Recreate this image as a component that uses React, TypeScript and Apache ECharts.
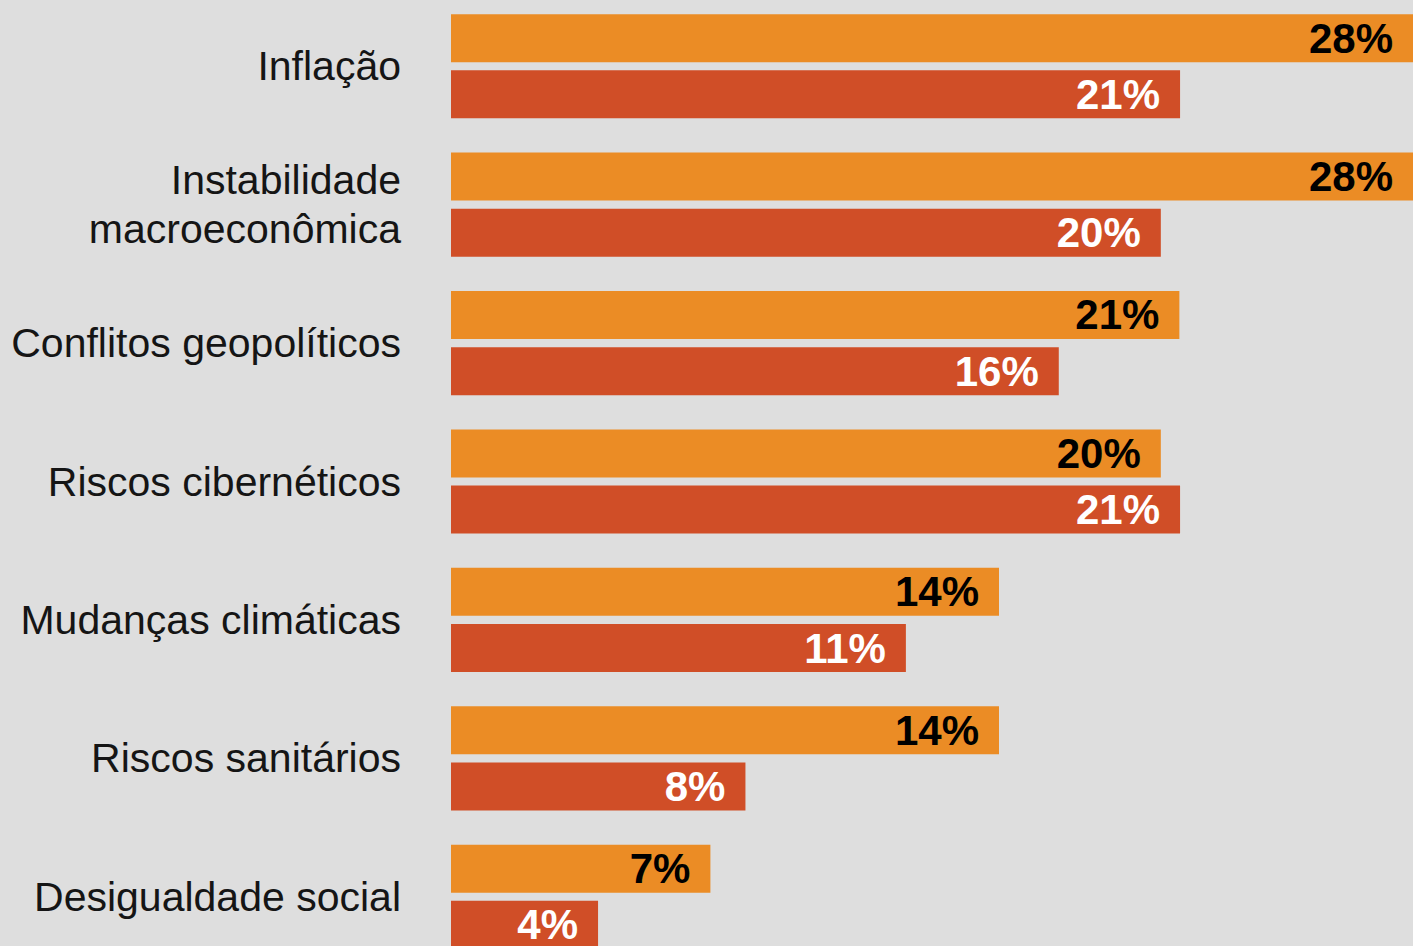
import React, { useEffect, useRef } from "react";
import * as echarts from "echarts";

const categories = [
  "Inflação",
  "Instabilidade\nmacroeconômica",
  "Conflitos geopolíticos",
  "Riscos cibernéticos",
  "Mudanças climáticas",
  "Riscos sanitários",
  "Desigualdade social",
];

// Percent labels as printed on the bars
const orangeLabels = [28, 28, 21, 20, 14, 14, 7];
const redLabels = [21, 20, 16, 21, 11, 8, 4];

// Bar lengths as drawn in the picture (in % units)
const orangeLengths = [28, 28, 21.2, 20.66, 15.95, 15.95, 7.55];
const redLengths = [21.22, 20.66, 17.69, 21.22, 13.24, 8.57, 4.28];

const ORANGE = "#EB8C25";
const RED = "#D04E27";
const BG = "#DEDEDE";
const FONT = "'Liberation Sans', Arial, Helvetica, sans-serif";

export default function App() {
  const ref = useRef<HTMLDivElement>(null);
  useEffect(() => {
    if (!ref.current) return;
    const chart = echarts.init(ref.current, null, { renderer: "svg" });
    const labelBase = {
      show: true,
      position: "insideRight",
      distance: 20,
      fontFamily: FONT,
      fontWeight: "bold",
      fontSize: 42,
    };
    chart.setOption({
      animation: false,
      backgroundColor: BG,
      grid: {
        left: 451,
        right: 0,
        top: -3,
        height: 969,
        containLabel: false,
        outerBoundsMode: "none",
      },
      xAxis: {
        type: "value",
        min: 0,
        max: 28,
        show: false,
        splitLine: { show: false },
      },
      yAxis: {
        type: "category",
        inverse: true,
        data: categories,
        axisLine: { show: false },
        axisTick: { show: false },
        axisLabel: {
          margin: 50,
          fontFamily: FONT,
          fontSize: 41,
          color: "#151515",
          lineHeight: 49,
          align: "right",
        },
      },
      series: [
        {
          type: "bar",
          data: orangeLengths,
          barWidth: 48,
          barGap: "17%",
          itemStyle: { color: ORANGE },
          label: {
            ...labelBase,
            color: "#000",
            formatter: (p: any) => orangeLabels[p.dataIndex] + "%",
          },
        },
        {
          type: "bar",
          data: redLengths,
          barWidth: 48,
          barGap: "17%",
          itemStyle: { color: RED },
          label: {
            ...labelBase,
            color: "#fff",
            formatter: (p: any) => redLabels[p.dataIndex] + "%",
          },
        },
      ],
    });
    return () => chart.dispose();
  }, []);
  return (
    <div
      ref={ref}
      style={{ position: "fixed", left: 0, top: 0, width: 1413, height: 946, background: BG }}
    />
  );
}
